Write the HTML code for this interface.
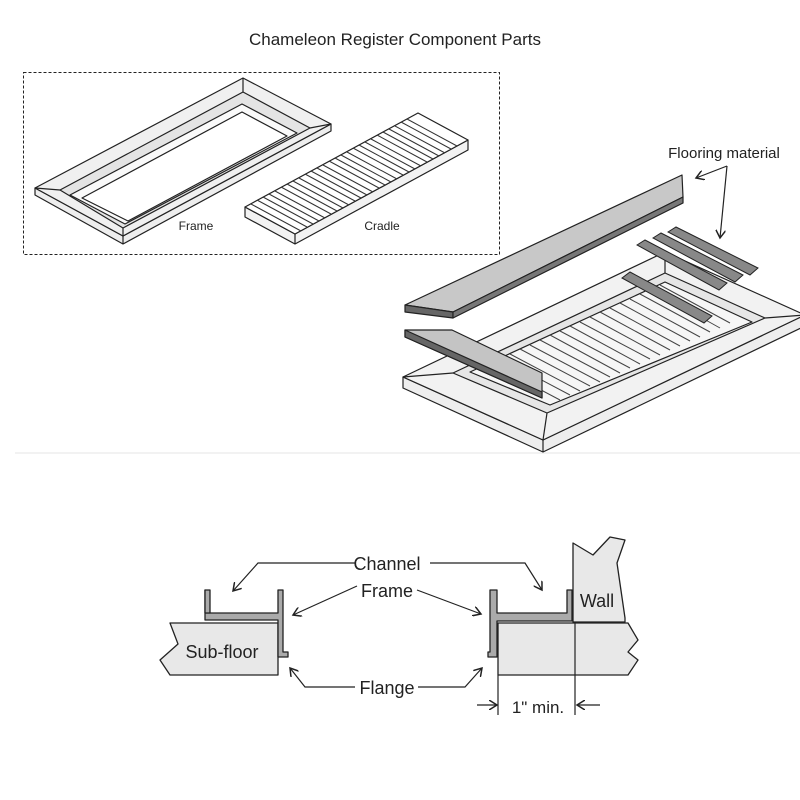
<!DOCTYPE html>
<html><head><style>
html,body{margin:0;padding:0;background:#fff;}
svg{display:block;}
text{font-family:"Liberation Sans",sans-serif;fill:#222;}
</style></head><body>
<svg width="800" height="800" viewBox="0 0 800 800" xmlns="http://www.w3.org/2000/svg">
<defs>
<marker id="ah" markerWidth="10" markerHeight="10" refX="8" refY="5" orient="auto" markerUnits="userSpaceOnUse">
<path d="M0,0 L8,5 L0,10" fill="none" stroke="#222" stroke-width="1.5"/>
</marker>
</defs>
<text x="395" y="45" font-size="17" text-anchor="middle" fill="#333">Chameleon  Register Component Parts</text>
<rect x="23.5" y="72.5" width="476" height="182" fill="none" stroke="#222" stroke-dasharray="3,2"/>

<!-- Frame (top) -->
<g stroke="#222" stroke-width="1.2" stroke-linejoin="round">
<polygon points="35,188 35,195 123,244 331,131 331,124 123,236" fill="#eee"/>
<polygon points="35,188 243,78 331,124 123,236" fill="#f0f0f0"/>
<polygon points="60,190 243,92 310,128 123,228" fill="#e4e4e4"/>
<polygon points="70,195 242,104 297,133 125,224" fill="#fafafa"/>
<polygon points="82,198 242,112 287,136 128,221" fill="#fff"/>
<line x1="35" y1="188" x2="60" y2="190"/><line x1="123" y1="236" x2="123" y2="228"/>
<line x1="243" y1="78" x2="243" y2="92"/><line x1="331" y1="124" x2="310" y2="128"/>
<line x1="123" y1="236" x2="123" y2="244"/>
</g>
<text x="196" y="230" font-size="12" text-anchor="middle" fill="#444">Frame</text>

<!-- Cradle -->
<g stroke="#222" stroke-width="1.2" stroke-linejoin="round">
<polygon points="245,207 245,217 295,244 468,150 468,140 295,234" fill="#f2f2f2"/>
<polygon points="245,207 418,113 468,140 295,234" fill="#fff"/>
<line x1="295" y1="234" x2="295" y2="244"/>
</g>
<g stroke="#333" stroke-width="1">
<line x1="251" y1="204" x2="301" y2="231"/><line x1="257" y1="200" x2="307" y2="227"/><line x1="263" y1="197" x2="313" y2="224"/><line x1="269" y1="194" x2="319" y2="221"/><line x1="275" y1="191" x2="325" y2="218"/><line x1="281" y1="187" x2="331" y2="214"/><line x1="287" y1="184" x2="337" y2="211"/><line x1="293" y1="181" x2="343" y2="208"/><line x1="299" y1="178" x2="349" y2="205"/><line x1="305" y1="174" x2="355" y2="201"/><line x1="311" y1="171" x2="361" y2="198"/><line x1="317" y1="168" x2="367" y2="195"/><line x1="323" y1="165" x2="373" y2="192"/><line x1="329" y1="161" x2="379" y2="188"/><line x1="335" y1="158" x2="385" y2="185"/><line x1="341" y1="155" x2="391" y2="182"/><line x1="347" y1="152" x2="397" y2="179"/><line x1="353" y1="148" x2="403" y2="175"/><line x1="359" y1="145" x2="409" y2="172"/><line x1="365" y1="142" x2="415" y2="169"/><line x1="371" y1="139" x2="421" y2="166"/><line x1="377" y1="135" x2="427" y2="162"/><line x1="383" y1="132" x2="433" y2="159"/><line x1="389" y1="129" x2="439" y2="156"/><line x1="395" y1="126" x2="445" y2="153"/><line x1="401" y1="122" x2="451" y2="149"/><line x1="407" y1="119" x2="457" y2="146"/>
</g>
<text x="382" y="230" font-size="12" text-anchor="middle" fill="#444">Cradle</text>

<!-- Right assembly frame -->
<g stroke="#222" stroke-width="1.2" stroke-linejoin="round">
<polygon points="403,377 403,388 543,452 805,326 805,315 543,440" fill="#eee"/>
<polygon points="403,377 665,252 805,315 543,440" fill="#f2f2f2"/>
<polygon points="453,373 665,273 765,318 547,413" fill="#e6e6e6"/>
<polygon points="470,372 665,282 752,322 550,405" fill="#f6f6f6"/>
<line x1="403" y1="377" x2="453" y2="373"/>
<line x1="543" y1="440" x2="547" y2="413"/>
<line x1="805" y1="315" x2="765" y2="318"/>
<line x1="665" y1="252" x2="665" y2="273"/>
<line x1="543" y1="440" x2="543" y2="452"/>
</g>
<g stroke="#444" stroke-width="1">
<line x1="490" y1="363" x2="560" y2="400"/><line x1="500" y1="358" x2="570" y2="395"/><line x1="510" y1="354" x2="580" y2="391"/><line x1="520" y1="349" x2="590" y2="386"/><line x1="530" y1="345" x2="600" y2="382"/><line x1="540" y1="340" x2="610" y2="377"/><line x1="550" y1="335" x2="620" y2="373"/><line x1="560" y1="331" x2="630" y2="368"/><line x1="570" y1="326" x2="640" y2="364"/><line x1="580" y1="322" x2="650" y2="359"/><line x1="590" y1="317" x2="660" y2="355"/><line x1="600" y1="312" x2="670" y2="350"/><line x1="610" y1="308" x2="680" y2="346"/><line x1="620" y1="303" x2="690" y2="341"/><line x1="630" y1="299" x2="700" y2="337"/><line x1="640" y1="294" x2="710" y2="332"/><line x1="650" y1="289" x2="720" y2="328"/><line x1="660" y1="285" x2="730" y2="323"/>
</g>
<!-- sticks -->
<g stroke="#222" stroke-width="1" fill="#888">
<polygon points="622,278 630,272 712,316 704,323"/>
<polygon points="637,245 645,240 727,283 719,290"/>
<polygon points="653,238 661,233 743,275 735,282"/>
<polygon points="668,232 676,227 758,268 750,275"/>
</g>
<!-- strips -->
<g stroke="#222" stroke-width="1.2" stroke-linejoin="round">
<polygon points="405,305 682,175 683,197 453,312" fill="#c8c8c8"/>
<polygon points="405,305 453,312 453,318 405,312" fill="#666"/>
<polygon points="453,312 683,197 683,203 453,318" fill="#777"/>
<polygon points="405,330 452,330 542,373 542,398 405,337" fill="#c4c4c4"/>
<polygon points="405,330 405,337 542,398 542,392" fill="#666"/>
</g>
<text x="724" y="158" font-size="15" text-anchor="middle">Flooring material</text>
<g stroke="#222" stroke-width="1.2" fill="none">
<line x1="727" y1="166" x2="696" y2="178" marker-end="url(#ah)"/>
<line x1="727" y1="166" x2="720" y2="238" marker-end="url(#ah)"/>
</g>

<line x1="15" y1="453" x2="800" y2="453" stroke="#e4e4e4" stroke-width="1"/>

<!-- bottom section -->
<g stroke="#222" stroke-width="1.3" stroke-linejoin="round">
<polygon points="170,623 278,623 278,675 170,675 160,660 178,644" fill="#e8e8e8"/>
<polygon points="498,623 628,623 638,640 628,652 638,660 628,675 498,675" fill="#e8e8e8"/>
<polygon points="573,543 593,555 610,537 625,540 617,563 625,618 625,622 573,622" fill="#e8e8e8"/>
<path d="M205,590 V613 H278 V590 H283 V652 H288 V657 H278 V620 H205 Z" fill="#aaa"/>
<path d="M205,590 H210 V613 H205 Z" fill="#aaa"/>
<path d="M490,590 H497 V613 H567 V590 H572 V621 H497 V652 H497 V657 H488 V652 H490 Z" fill="#aaa"/>
</g>
<g stroke="#222" stroke-width="1.2" fill="none">
<line x1="575" y1="622" x2="575" y2="715"/>
<line x1="498" y1="675" x2="498" y2="715"/>
<polyline points="355,563 258,563 233,591" marker-end="url(#ah)"/>
<polyline points="430,563 525,563 542,590" marker-end="url(#ah)"/>
<line x1="357" y1="586" x2="293" y2="615" marker-end="url(#ah)"/>
<line x1="417" y1="590" x2="481" y2="614" marker-end="url(#ah)"/>
<polyline points="355,687 305,687 290,668" marker-end="url(#ah)"/>
<polyline points="418,687 465,687 482,668" marker-end="url(#ah)"/>
<line x1="477" y1="705" x2="497" y2="705" marker-end="url(#ah)"/>
<line x1="600" y1="705" x2="577" y2="705" marker-end="url(#ah)"/>
</g>
<g font-size="18">
<text x="387" y="570" text-anchor="middle">Channel</text>
<text x="387" y="597" text-anchor="middle">Frame</text>
<text x="387" y="694" text-anchor="middle">Flange</text>
<text x="222" y="658" text-anchor="middle">Sub-floor</text>
<text x="597" y="607" text-anchor="middle">Wall</text>
<text x="538" y="713" text-anchor="middle" font-size="17">1" min.</text>
</g>
</svg>
</body></html>
